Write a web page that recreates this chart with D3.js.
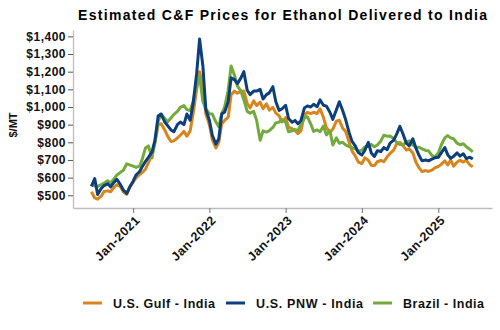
<!DOCTYPE html>
<html><head><meta charset="utf-8">
<script src="https://cdn.jsdelivr.net/npm/d3@7"></script>
<style>body{margin:0;background:#fff} svg{display:block;font-family:"Liberation Sans",Arial,sans-serif}</style>
</head><body><svg id="c" width="500" height="330"></svg>
<script>
const dates = [
"2020-06-15","2020-07-01","2020-07-15","2020-08-01","2020-08-15","2020-09-01","2020-09-15","2020-10-01","2020-10-15","2020-11-01","2020-11-15","2020-12-01","2020-12-15",
"2021-01-01","2021-01-15","2021-02-01","2021-02-15","2021-03-01","2021-03-15","2021-04-01","2021-04-15","2021-05-01","2021-05-15","2021-06-01","2021-06-15","2021-07-01","2021-07-15","2021-08-01","2021-08-15","2021-09-01","2021-09-15","2021-10-01","2021-10-15","2021-11-01","2021-11-15","2021-12-01","2021-12-15",
"2022-01-01","2022-01-15","2022-02-01","2022-02-15","2022-03-01","2022-03-15","2022-04-01","2022-04-15","2022-05-01","2022-05-15","2022-06-01","2022-06-15","2022-07-01","2022-07-15","2022-08-01","2022-08-15","2022-09-01","2022-09-15","2022-10-01","2022-10-15","2022-11-01","2022-11-15","2022-12-01","2022-12-15",
"2023-01-01","2023-01-15","2023-02-01","2023-02-15","2023-03-01","2023-03-15","2023-04-01","2023-04-15","2023-05-01","2023-05-15","2023-06-01","2023-06-15","2023-07-01","2023-07-15","2023-08-01","2023-08-15","2023-09-01","2023-09-15","2023-10-01","2023-10-15","2023-11-01","2023-11-15","2023-12-01","2023-12-15",
"2024-01-01","2024-01-15","2024-02-01","2024-02-15","2024-03-01","2024-03-15","2024-04-01","2024-04-15","2024-05-01","2024-05-15","2024-06-01","2024-06-15","2024-07-01","2024-07-15","2024-08-01","2024-08-15","2024-09-01","2024-09-15","2024-10-01","2024-10-15","2024-11-01","2024-11-15","2024-12-01","2024-12-15",
"2025-01-01","2025-01-15","2025-02-01","2025-02-15","2025-03-01","2025-03-15","2025-04-01","2025-04-15","2025-05-01","2025-05-15","2025-06-01","2025-06-15"
];
const gulfIndia = [
520,485,478,495,522,525,520,545,560,548,520,505,545,
575,598,618,630,648,685,730,795,900,905,870,835,805,808,825,840,862,835,865,960,1100,1200,1110,960,
900,815,768,800,905,924,942,1070,1090,1078,1088,1090,1020,995,1035,1008,1028,990,1018,982,998,965,950,915,
940,886,877,867,849,865,955,970,962,970,963,990,940,885,855,875,920,925,880,862,800,750,722,688,
680,712,698,670,668,690,697,690,718,737,756,790,800,783,756,762,740,690,655,635,640,635,642,655,
663,675,695,672,700,665,688,698,688,698,672,662
];
const pnwIndia = [
550,595,505,538,555,565,548,573,590,560,530,510,545,
580,615,635,665,692,715,745,810,950,960,915,895,870,860,900,915,900,960,925,1018,1190,1385,1230,985,
925,840,790,820,960,972,1030,1165,1155,1132,1165,1200,1095,1070,1090,1090,1100,1045,1070,1080,1115,1030,980,990,
1010,935,914,924,905,922,995,1006,1000,1015,1002,1040,1010,1005,970,930,985,1030,980,930,855,805,778,742,
728,754,800,740,720,752,748,770,758,795,812,845,890,850,795,780,820,770,725,695,700,695,705,712,
715,740,770,730,710,720,740,722,735,708,716,705
];
const brazilIndia = [
565,552,550,560,570,582,570,592,615,630,642,678,672,
665,658,665,710,768,780,712,800,920,960,935,916,938,958,975,998,1008,985,980,1030,1120,1175,1030,990,
962,960,915,888,962,1000,1095,1232,1180,1120,1090,1040,975,965,975,925,812,865,858,866,884,910,915,928,
915,860,865,872,867,900,938,945,905,862,870,860,892,842,865,785,825,795,800,786,776,770,763,750,
755,773,778,788,775,785,808,840,835,836,822,800,787,786,800,808,785,773,772,763,754,752,726,717,
740,785,825,838,825,820,795,786,792,775,760,746
];
const seriesNames = ["U.S. Gulf - India","U.S. PNW - India","Brazil - India"];
const seriesColors = ["#D8851D","#0C3F7C","#72AA3C"];
const yTicks = [500,600,700,800,900,1000,1100,1200,1300,1400];
const xTicks = ["2021-01-01","2022-01-01","2023-01-01","2024-01-01","2025-01-01"];
const title = "Estimated C&F Prices for Ethanol Delivered to India";
const yTitle = "$/MT";

const parse = d3.timeParse("%Y-%m-%d");
const svg = d3.select("#c");
const x = d3.scaleTime().domain([parse("2020-03-19"), parse("2025-09-15")]).range([73, 492]);
const y = d3.scaleLinear().domain([428, 1436]).range([208, 30]);

// title
svg.append("text").attr("x", 78).attr("y", 19.5).attr("textLength", 409).attr("lengthAdjust","spacing")
  .attr("font-size", 14).attr("font-weight", "bold").attr("fill", "#000").text(title);

// y axis
const yAxis = svg.append("g").attr("transform","translate(73,0)")
  .call(d3.axisLeft(y).tickValues(yTicks).tickFormat(d3.format("$,")).tickSize(5).tickSizeOuter(0).tickPadding(2));
yAxis.select(".domain").attr("stroke","#bdbdbd").attr("stroke-width",1.3);
yAxis.selectAll(".tick line").attr("stroke","#555");
yAxis.selectAll(".tick text").attr("font-size",12).attr("font-weight","bold").attr("letter-spacing","0.5px")
  .attr("fill","#111").attr("font-family","Liberation Sans, Arial, sans-serif");

// x axis
const xAxis = svg.append("g").attr("transform","translate(0,208)")
  .call(d3.axisBottom(x).tickValues(xTicks.map(parse)).tickFormat(d3.timeFormat("%b-%Y")).tickSize(5).tickSizeOuter(0));
xAxis.select(".domain").attr("stroke","#bdbdbd").attr("stroke-width",1.3);
xAxis.selectAll(".tick line").attr("stroke","#777");
xAxis.selectAll(".tick text").attr("font-size",12.5).attr("font-weight","bold").attr("fill","#111")
  .attr("letter-spacing","0.5px")
  .attr("font-family","Liberation Sans, Arial, sans-serif")
  .attr("text-anchor","end").attr("dy",null).attr("y",null)
  .attr("transform","translate(7,13) rotate(-45)");

// y title
svg.append("text").attr("transform","translate(17,125) rotate(-90)").attr("text-anchor","middle")
  .attr("font-size",11).attr("font-weight","bold").attr("fill","#111").text(yTitle);

// lines
const all = [gulfIndia, brazilIndia, pnwIndia];
const colorFor = [seriesColors[0], seriesColors[2], seriesColors[1]];
const line = d3.line().x((d,i)=>x(parse(dates[i]))).y(d=>y(d)).curve(d3.curveLinear);
all.forEach((s,k)=>{
  svg.append("path").datum(s).attr("d",line).attr("fill","none")
    .attr("stroke",colorFor[k]).attr("stroke-width",3).attr("stroke-linejoin","round");
});

// legend
const legX = [83, 226, 373];
const legLen = [102, 107, 81];
seriesNames.forEach((n,i)=>{
  const g = svg.append("g");
  g.append("line").attr("x1",legX[i]).attr("x2",legX[i]+19).attr("y1",303).attr("y2",303)
    .attr("stroke",seriesColors[i]).attr("stroke-width",3);
  g.append("text").attr("x",legX[i]+30).attr("y",307.5).attr("font-size",12.5).attr("font-weight","bold")
    .attr("fill","#111").attr("textLength",legLen[i]).attr("lengthAdjust","spacing").text(n);
});
</script></body></html>
